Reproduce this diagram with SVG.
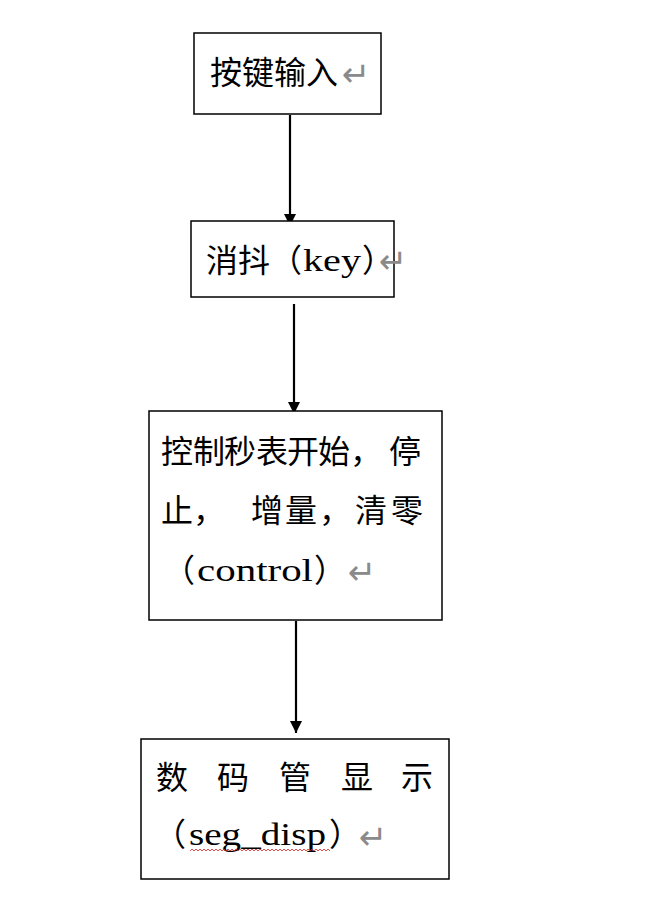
<svg xmlns="http://www.w3.org/2000/svg" width="651" height="911" viewBox="0 0 651 911">
<style>
.box{fill:#fff;stroke:#000;stroke-width:1.5}
.cjk{font-family:"Noto Sans CJK SC",sans-serif;font-size:32px;fill:#000}
.lat{font-family:"Liberation Serif","Noto Sans CJK SC",serif;font-size:32px;fill:#000}
.ret{font-family:"DejaVu Sans",sans-serif;font-size:34px;fill:#8a8a8a}
.halt{font-feature-settings:"halt"}
.conn{stroke:#000;stroke-width:2.2;fill:none}
</style>
<defs>
<marker id="ah" markerUnits="userSpaceOnUse" markerWidth="12" markerHeight="12" viewBox="0 0 12 12" refX="12" refY="6" orient="auto">
<path d="M0,0 L12,6 L0,12 z" fill="#000"/>
</marker>
</defs>
<rect width="651" height="911" fill="#fff"/>
<g id="connectors">
<line class="conn" x1="290" y1="115" x2="290" y2="226" marker-end="url(#ah)"/>
<line class="conn" x1="294" y1="304" x2="294" y2="414" marker-end="url(#ah)"/>
<line class="conn" x1="296" y1="621" x2="296" y2="733" marker-end="url(#ah)"/>
</g>
<g id="node-input">
<rect class="box" x="194" y="33" width="187" height="81"/>
<text class="cjk" x="210" y="84" font-size="31">按键输入</text>
<text class="ret" x="342" y="86">↵</text>
</g>
<g id="node-key">
<rect class="box" x="191" y="221" width="203" height="76"/>
<text class="cjk" x="206" y="272" font-size="31">消抖（</text>
<text class="lat" x="303" y="271" textLength="58" lengthAdjust="spacingAndGlyphs">key</text>
<text class="cjk halt" x="362" y="272" font-size="31">）</text>
<text class="ret" x="379" y="273" font-size="27">↵</text>
</g>
<g id="node-control">
<rect class="box" x="149" y="411" width="293" height="209"/>
<text class="cjk" y="463"><tspan x="161">控</tspan><tspan x="193">制</tspan><tspan x="224">秒</tspan><tspan x="256">表</tspan><tspan x="287">开</tspan><tspan x="318">始</tspan><tspan x="350">，</tspan><tspan x="389">停</tspan></text>
<text class="cjk" y="522"><tspan x="161">止</tspan><tspan x="193">，</tspan><tspan x="251">增</tspan><tspan x="285">量</tspan><tspan x="319">，</tspan><tspan x="355">清</tspan><tspan x="391">零</tspan></text>
<text class="cjk" x="163" y="582">（</text>
<text class="lat" x="197" y="581" textLength="116" lengthAdjust="spacingAndGlyphs">control</text>
<text class="cjk halt" x="314" y="582">）</text>
<text class="ret" x="348" y="584" font-size="32">↵</text>
</g>
<g id="node-display">
<rect class="box" x="141" y="739" width="308" height="140"/>
<text class="cjk" y="789"><tspan x="156">数</tspan><tspan x="217">码</tspan><tspan x="279">管</tspan><tspan x="341">显</tspan><tspan x="401">示</tspan></text>
<text class="cjk" x="154" y="846">（</text>
<text class="lat" x="189" y="845" textLength="137" lengthAdjust="spacingAndGlyphs">seg_disp</text>
<text class="cjk halt" x="329" y="846">）</text>
<text class="ret" x="359" y="849" font-size="36">↵</text>
<path d="M190,851 l2,-2 l2,2 l2,-2 l2,2 l2,-2 l2,2 l2,-2 l2,2 l2,-2 l2,2 l2,-2 l2,2 l2,-2 l2,2 l2,-2 l2,2 l2,-2 l2,2 l2,-2 l2,2 l2,-2 l2,2 l2,-2 l2,2 l2,-2 l2,2 l2,-2 l2,2 l2,-2 l2,2 l2,-2 l2,2 l2,-2 l2,2 l2,-2 l2,2 l2,-2 l2,2 l2,-2 l2,2 l2,-2 l2,2 l2,-2 l2,2 l2,-2 l2,2 l2,-2 l2,2 l2,-2 l2,2 l2,-2 l2,2 l2,-2 l2,2 l2,-2 l2,2 l2,-2 l2,2 l2,-2 l2,2 l2,-2 l2,2 l2,-2 l2,2 l2,-2 l2,2 l2,-2 l2,2 l2,-2 l2,2" fill="none" stroke="#e02020" stroke-width="0.8"/>
</g>
</svg>
